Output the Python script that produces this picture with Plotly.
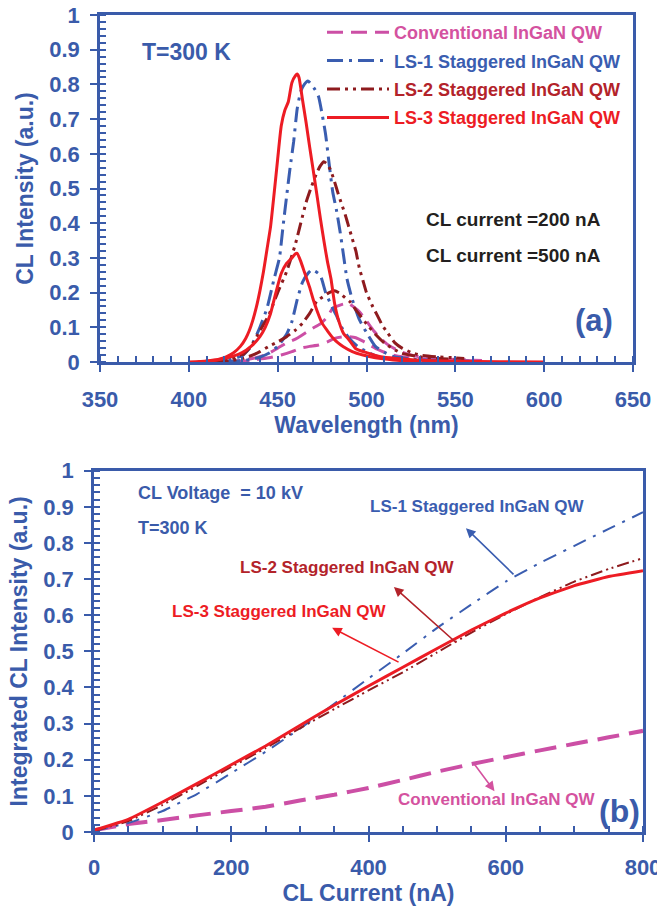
import plotly.graph_objects as go

# ---------------- data: panel (a) spectra ----------------
# Conventional InGaN QW
conv_500_wl = [420, 430, 440, 445, 450, 455, 460, 463, 466, 470, 474, 478, 481, 484, 487, 490, 493, 496, 500, 504, 508, 512, 516, 520, 525, 530, 540, 550, 565]
conv_500_I = [0, 0.005, 0.015, 0.025, 0.04, 0.055, 0.066, 0.075, 0.085, 0.098, 0.11, 0.13, 0.155, 0.162, 0.167, 0.168, 0.158, 0.145, 0.118, 0.09, 0.068, 0.05, 0.038, 0.028, 0.02, 0.015, 0.01, 0.007, 0.004]
conv_200_wl = [425, 435, 445, 452, 458, 463, 468, 473, 478, 482, 486, 490, 494, 498, 502, 506, 510, 515, 520, 530, 540, 550, 565]
conv_200_I = [0, 0.005, 0.012, 0.02, 0.03, 0.04, 0.045, 0.049, 0.058, 0.068, 0.072, 0.073, 0.07, 0.06, 0.048, 0.037, 0.028, 0.02, 0.015, 0.01, 0.007, 0.005, 0.003]

# LS-1 staggered
ls1_500_wl = [410, 420, 425, 430, 435, 440, 444, 448, 451, 453, 455, 457, 459, 461, 463, 465, 467, 469, 471, 473, 475, 477, 479, 481, 483, 485, 487, 489, 492, 496, 500, 505, 510, 515, 525, 540, 560]
ls1_500_I = [0, 0.005, 0.01, 0.018, 0.045, 0.1, 0.155, 0.24, 0.3, 0.39, 0.476, 0.56, 0.635, 0.73, 0.78, 0.8, 0.81, 0.8, 0.785, 0.765, 0.715, 0.655, 0.57, 0.49, 0.44, 0.38, 0.31, 0.24, 0.18, 0.122, 0.085, 0.045, 0.028, 0.016, 0.008, 0.004, 0.002]
ls1_200_wl = [420, 430, 436, 440, 445, 450, 455, 458, 461, 464, 467, 469, 471, 474, 477, 480, 483, 486, 490, 495, 500, 505, 510, 520, 535]
ls1_200_I = [0, 0.004, 0.008, 0.014, 0.025, 0.045, 0.08, 0.116, 0.18, 0.23, 0.255, 0.265, 0.262, 0.25, 0.2, 0.165, 0.135, 0.1, 0.07, 0.045, 0.03, 0.018, 0.01, 0.005, 0.002]

# LS-2 staggered
ls2_500_wl = [410, 420, 430, 435, 440, 445, 450, 455, 460, 463, 466, 469, 472, 474, 476, 478, 480, 482, 484, 486, 488, 490, 492, 494, 496, 498, 500, 503, 506, 509, 512, 516, 520, 525, 530, 540, 550, 555]
ls2_500_I = [0, 0.005, 0.02, 0.045, 0.09, 0.135, 0.2, 0.26, 0.34, 0.4, 0.46, 0.505, 0.545, 0.565, 0.577, 0.57, 0.55, 0.52, 0.486, 0.455, 0.425, 0.39, 0.355, 0.32, 0.27, 0.235, 0.2, 0.165, 0.135, 0.105, 0.083, 0.055, 0.04, 0.028, 0.02, 0.015, 0.012, 0.01]
ls2_200_wl = [415, 425, 430, 435, 440, 445, 450, 455, 460, 464, 468, 472, 476, 479, 482, 485, 488, 491, 494, 497, 500, 505, 510, 515, 520, 530, 540, 555]
ls2_200_I = [0, 0.005, 0.01, 0.018, 0.03, 0.045, 0.058, 0.073, 0.092, 0.112, 0.14, 0.175, 0.19, 0.2, 0.205, 0.198, 0.185, 0.172, 0.15, 0.13, 0.11, 0.08, 0.055, 0.038, 0.025, 0.015, 0.01, 0.007]

# LS-3 staggered
ls3_500_wl = [400, 410, 417, 421, 425, 429, 432, 434, 436, 438, 440, 442, 444, 446, 448, 450, 452, 454, 456, 458, 460, 461, 462, 464, 466, 468, 470, 472, 474, 476, 478, 480, 482, 484, 487, 490, 494, 500, 508, 517, 530, 550, 575, 600]
ls3_500_I = [0, 0.003, 0.008, 0.015, 0.026, 0.045, 0.068, 0.09, 0.12, 0.158, 0.205, 0.26, 0.325, 0.39, 0.485, 0.585, 0.68, 0.725, 0.75, 0.805, 0.825, 0.83, 0.82, 0.755, 0.69, 0.62, 0.553, 0.485, 0.415, 0.35, 0.29, 0.24, 0.17, 0.125, 0.083, 0.065, 0.038, 0.027, 0.015, 0.01, 0.005, 0.002, 0.001, 0]
ls3_200_wl = [405, 415, 425, 430, 435, 440, 443, 446, 449, 452, 455, 458, 460, 461, 463, 465, 468, 470, 472, 475, 478, 481, 484, 487, 492, 498, 505, 515, 530]
ls3_200_I = [0, 0.005, 0.017, 0.027, 0.045, 0.073, 0.1, 0.14, 0.2, 0.255, 0.284, 0.3, 0.312, 0.313, 0.29, 0.26, 0.215, 0.18, 0.15, 0.112, 0.09, 0.07, 0.055, 0.044, 0.03, 0.02, 0.012, 0.006, 0.002]

# ---------------- data: panel (b) integrated intensity ----------------
current_nA = [0, 50, 100, 150, 200, 250, 300, 350, 400, 450, 500, 550, 600, 650, 700, 750, 800]
int_conv = [0.005, 0.022, 0.033, 0.046, 0.058, 0.07, 0.087, 0.103, 0.122, 0.144, 0.167, 0.188, 0.207, 0.226, 0.244, 0.262, 0.28]
int_ls1 = [0.003, 0.025, 0.058, 0.105, 0.163, 0.222, 0.286, 0.355, 0.425, 0.494, 0.565, 0.63, 0.693, 0.745, 0.792, 0.839, 0.885]
int_ls2 = [0.003, 0.03, 0.075, 0.127, 0.18, 0.232, 0.287, 0.34, 0.392, 0.442, 0.497, 0.552, 0.603, 0.65, 0.693, 0.728, 0.758]
int_ls3 = [0.005, 0.035, 0.083, 0.134, 0.186, 0.238, 0.295, 0.351, 0.404, 0.456, 0.508, 0.559, 0.606, 0.648, 0.682, 0.707, 0.723]

series_names = ["Conventional InGaN QW", "LS-1 Staggered InGaN QW", "LS-2 Staggered InGaN QW", "LS-3 Staggered InGaN QW"]

# ---------------- styles ----------------
FONT = "Liberation Sans, Arial, sans-serif"
BLUE_AX = "#3A5BAA"
C_CONV = "#CC4FA5"
C_CONV_TXT = "#D4529F"
C_LS1 = "#3A5DB0"
C_LS2 = "#8E1B1E"
C_LS2_TXT = "#B3232A"
C_LS3 = "#ED1C24"

D_CONV = "16px,8px"
D_LS1 = "16px,6px,3px,6px"
D_LS2 = "13px,5px,3px,5px,3px,5px"

fig = go.Figure()

spectra = [
    (series_names[0], C_CONV, C_CONV_TXT, D_CONV, 3, [(conv_200_wl, conv_200_I), (conv_500_wl, conv_500_I)]),
    (series_names[1], C_LS1, C_LS1, D_LS1, 3, [(ls1_200_wl, ls1_200_I), (ls1_500_wl, ls1_500_I)]),
    (series_names[2], C_LS2, C_LS2_TXT, D_LS2, 3, [(ls2_200_wl, ls2_200_I), (ls2_500_wl, ls2_500_I)]),
    (series_names[3], C_LS3, C_LS3, "solid", 3, [(ls3_200_wl, ls3_200_I), (ls3_500_wl, ls3_500_I)]),
]
for gi, (nm, col, tcol, dash, w, curves) in enumerate(spectra):
    for ci, (xx, yy) in enumerate(curves):
        fig.add_trace(go.Scatter(
            x=xx, y=yy, mode="lines", xaxis="x", yaxis="y",
            line=dict(color=col, width=w, dash=dash, shape="spline", smoothing=0.5),
            name=f"<span style='color:{tcol}'>{nm}</span>",
            legendgroup=f"g{gi}", showlegend=(ci == 1), hoverinfo="skip",
        ))

integ = [
    (int_conv, C_CONV, "22px,10px", 4),
    (int_ls1, C_LS1, "14px,8px,3px,8px", 2),
    (int_ls2, C_LS2, "12px,4px,2px,4px,2px,4px", 2),
    (int_ls3, C_LS3, "solid", 3),
]
for yy, col, dash, w in integ:
    fig.add_trace(go.Scatter(
        x=current_nA, y=yy, mode="lines", xaxis="x2", yaxis="y2",
        line=dict(color=col, width=w, dash=dash, shape="spline", smoothing=0.3),
        showlegend=False, hoverinfo="skip",
    ))

tickfont = dict(family=FONT, size=22, color=BLUE_AX, weight="bold")
titlefont = dict(family=FONT, size=23, color=BLUE_AX, weight="bold")


def axis(domain, rng, dtick, minor_dtick, title, anchor, standoff, tls):
    return dict(
        domain=domain, range=rng, dtick=dtick, tick0=0, anchor=anchor,
        automargin=False, ticklabeloverflow="allow",
        showline=True, linecolor=BLUE_AX, linewidth=2.5, mirror=True,
        ticks="outside", ticklen=7, tickwidth=2, tickcolor=BLUE_AX,
        minor=dict(ticks="inside", ticklen=6, tickwidth=1.5, tickcolor=BLUE_AX, dtick=minor_dtick),
        showgrid=False, zeroline=False, tickfont=tickfont,
        ticklabelstandoff=tls,
        title=dict(text=title, font=titlefont, standoff=standoff),
    )


fig.update_layout(
    width=657, height=906,
    margin=dict(l=0, r=0, t=0, b=0),
    paper_bgcolor="white", plot_bgcolor="white",
    font=dict(family=FONT),
    xaxis=axis([100 / 657, 633 / 657], [350, 650], 50, 10, "Wavelength (nm)", "y", 6, 9),
    yaxis=axis([(906 - 362) / 906, (906 - 15) / 906], [0, 1], 0.1, 0.02, "CL Intensity (a.u.)", "x", 10, 6),
    xaxis2=axis([94 / 657, 643 / 657], [0, 800], 200, 50, "CL Current (nA)", "y2", 4, 7),
    yaxis2=axis([(906 - 832) / 906, (906 - 470.7) / 906], [0, 1], 0.1, 0.02, "Integrated CL Intensity (a.u.)", "x2", 10, 6),
    legend=dict(
        x=322 / 657, y=(906 - 14) / 906, xanchor="left", yanchor="top",
        bgcolor="rgba(0,0,0,0)", borderwidth=0,
        font=dict(family=FONT, size=18, color=BLUE_AX, weight="bold"),
        itemwidth=62, tracegroupgap=2, traceorder="grouped",
    ),
    showlegend=True,
)


def label(text, x, y, xref, yref, color, size, xanchor="left"):
    fig.add_annotation(text=text, x=x, y=y, xref=xref, yref=yref, showarrow=False,
                       xanchor=xanchor, yanchor="middle",
                       font=dict(family=FONT, size=size, color=color, weight="bold"))


def arrow(x, y, ax, ay, color):
    fig.add_annotation(text="", x=x, y=y, ax=ax, ay=ay, xref="x2", yref="y2", axref="x2", ayref="y2",
                       showarrow=True, arrowhead=2, arrowsize=1.2, arrowwidth=1.6, arrowcolor=color)


# panel (a) texts
label("T=300 K", 372.5, 0.893, "x", "y", BLUE_AX, 23)
label("CL current =200 nA", 532.5, 0.412, "x", "y", "#231F20", 19)
label("CL current =500 nA", 532.5, 0.308, "x", "y", "#231F20", 19)
label("(a)", 627.8, 0.121, "x", "y", BLUE_AX, 31, "center")

# panel (b) texts
label("CL Voltage\u00a0 = 10 kV", 61, 0.939, "x2", "y2", BLUE_AX, 18)
label("T=300 K", 61, 0.841, "x2", "y2", BLUE_AX, 18)
label("LS-1 Staggered InGaN QW", 399, 0.90, "x2", "y2", C_LS1, 17)
label("LS-2 Staggered InGaN QW", 210, 0.731, "x2", "y2", C_LS2_TXT, 17)
label("LS-3 Staggered InGaN QW", 111, 0.61, "x2", "y2", C_LS3, 17)
label("Conventional InGaN QW", 440, 0.0886, "x2", "y2", C_CONV_TXT, 17)
label("(b)", 766, 0.058, "x2", "y2", BLUE_AX, 32, "center")

arrow(542, 0.841, 613.5, 0.709, C_LS1)
arrow(437, 0.678, 530, 0.52, C_LS2_TXT)
arrow(347, 0.565, 446, 0.468, C_LS3)
arrow(583.6, 0.113, 553, 0.191, C_CONV_TXT)

fig.write_html("out.html")
